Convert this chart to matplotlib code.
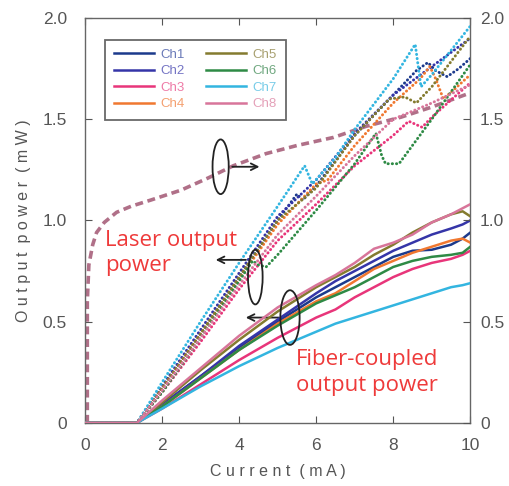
import matplotlib
matplotlib.use('Agg')
import matplotlib.pyplot as plt
from matplotlib.patches import Ellipse

# ── data ──
CHANNELS = ['Ch1', 'Ch2', 'Ch3', 'Ch4', 'Ch5', 'Ch6', 'Ch7', 'Ch8']

# fiber-coupled output power (solid)
fib_x = [0, 1.35, 2, 3, 4, 5, 6, 6.5, 7, 7.5, 8, 8.5, 9, 9.5, 9.8, 10]
fib_ch1 = [0, 0, 0.09, 0.23, 0.37, 0.50, 0.62, 0.67, 0.72, 0.77, 0.82, 0.85, 0.855, 0.88, 0.91, 0.94]
fib_ch2 = [0, 0, 0.09, 0.23, 0.38, 0.51, 0.64, 0.70, 0.75, 0.80, 0.85, 0.89, 0.93, 0.96, 0.98, 1.00]
fib_ch3 = [0, 0, 0.07, 0.19, 0.31, 0.42, 0.52, 0.56, 0.62, 0.67, 0.72, 0.76, 0.79, 0.81, 0.83, 0.85]
fib_ch4 = [0, 0, 0.08, 0.22, 0.36, 0.49, 0.60, 0.64, 0.70, 0.76, 0.80, 0.84, 0.87, 0.90, 0.91, 0.89]
fib_ch5 = [0, 0, 0.10, 0.26, 0.41, 0.55, 0.67, 0.72, 0.77, 0.83, 0.88, 0.94, 0.99, 1.03, 1.045, 1.02]
fib_ch6 = [0, 0, 0.08, 0.22, 0.36, 0.48, 0.59, 0.63, 0.67, 0.72, 0.77, 0.80, 0.82, 0.83, 0.84, 0.87]
fib_ch7 = [0, 0, 0.07, 0.18, 0.28, 0.37, 0.45, 0.49, 0.52, 0.55, 0.58, 0.61, 0.64, 0.67, 0.68, 0.69]
fib_ch8 = [0, 0, 0.11, 0.27, 0.43, 0.57, 0.68, 0.73, 0.79, 0.86, 0.89, 0.93, 0.99, 1.03, 1.06, 1.08]

# laser output power (dotted)
las_x1 = [0, 1.35, 2, 3, 4, 5, 5.5, 5.65, 6, 7, 8, 8.6, 8.9, 9.1, 9.4, 9.7, 10]
las_y1 = [0, 0, 0.17, 0.44, 0.72, 1.0, 1.13, 1.10, 1.17, 1.42, 1.62, 1.74, 1.78, 1.74, 1.71, 1.75, 1.80]
las_x2 = [0, 1.35, 2, 3, 4, 5, 6, 7, 8, 9, 10]
las_y2 = [0, 0, 0.18, 0.46, 0.74, 1.02, 1.20, 1.43, 1.62, 1.76, 1.90]
las_x3 = [0, 1.35, 2, 3, 4, 5, 6, 7, 8, 8.4, 8.75, 9, 10]
las_y3 = [0, 0, 0.15, 0.40, 0.66, 0.90, 1.08, 1.27, 1.42, 1.49, 1.46, 1.51, 1.68]
las_x4 = [0, 1.35, 2, 3, 4, 5, 6, 6.3, 7, 8, 8.7, 8.95, 9.1, 9.3, 9.6, 10]
las_y4 = [0, 0, 0.17, 0.44, 0.71, 0.98, 1.18, 1.20, 1.37, 1.58, 1.70, 1.76, 1.70, 1.60, 1.65, 1.72]
las_x5 = [0, 1.35, 2, 3, 4, 5, 6, 7, 7.9, 8.3, 8.6, 9, 10]
las_y5 = [0, 0, 0.17, 0.44, 0.72, 1.0, 1.16, 1.42, 1.60, 1.61, 1.58, 1.66, 1.91]
las_x6 = [0, 1.35, 2, 3, 4, 4.35, 4.5, 4.7, 5, 6, 7, 7.55, 7.7, 7.8, 8.15, 9, 10]
las_y6 = [0, 0, 0.15, 0.42, 0.70, 0.80, 0.78, 0.77, 0.83, 1.05, 1.28, 1.43, 1.32, 1.28, 1.28, 1.50, 1.77]
las_x7 = [0, 1.35, 2, 3, 4, 5, 5.7, 5.9, 6.5, 7, 8, 8.57, 8.72, 9, 10]
las_y7 = [0, 0, 0.20, 0.50, 0.79, 1.07, 1.27, 1.18, 1.31, 1.45, 1.70, 1.87, 1.66, 1.72, 1.96]
las_x8 = [0, 1.35, 2, 3, 4, 5, 6, 7, 8, 9, 10]
las_y8 = [0, 0, 0.16, 0.42, 0.68, 0.93, 1.12, 1.32, 1.50, 1.58, 1.67]

# laser output (single, dashed)
ld_x = [0.06, 0.06, 0.1, 0.2, 0.3, 0.5, 0.82, 1.2, 1.7, 2.5, 3.2, 3.85, 4.7, 5.5, 6.45, 7.3, 8.2, 9.0, 10]
ld_y = [0, 0.6, 0.78, 0.88, 0.94, 0.99, 1.04, 1.07, 1.10, 1.15, 1.21, 1.27, 1.33, 1.37, 1.41, 1.465, 1.51, 1.56, 1.63]

X_TICKS = [0, 2, 4, 6, 8, 10]
Y_TICKS = [0, 0.5, 1.0, 1.5, 2.0]
Y_TICKLABELS = ['0', '0.5', '1.0', '1.5', '2.0']

COLORS = ['#1c3a8c', '#3535a8', '#e8357a', '#f07830', '#847b2f', '#2e8a45', '#33b5e0', '#d8759a']
TEXT_COLORS = ['#6a7ab8', '#7474c4', '#ee7aa6', '#f4a070', '#a8a070', '#70a880', '#78cce8', '#e4a0b8']
DASH_COLOR = '#b07088'
RED = '#ee3a3a'
GRAY = '#555555'

fib = [fib_ch1, fib_ch2, fib_ch3, fib_ch4, fib_ch5, fib_ch6, fib_ch7, fib_ch8]
las = [(las_x1, las_y1), (las_x2, las_y2), (las_x3, las_y3), (las_x4, las_y4),
       (las_x5, las_y5), (las_x6, las_y6), (las_x7, las_y7), (las_x8, las_y8)]

plt.rcParams['font.family'] = ['Liberation Sans', 'DejaVu Sans']

fig = plt.figure(figsize=(5.09, 4.86), dpi=100, facecolor='white')
ax = fig.add_axes([0.167, 0.13, 0.757, 0.833])

ax.plot(ld_x, ld_y, color=DASH_COLOR, lw=2.6, ls=(0, (2.2, 1.3)), zorder=2)

for (lx, ly), c in zip(las, COLORS):
    ax.plot(lx, ly, color=c, lw=2.1, ls=(0, (0.1, 1.35)), dash_capstyle='round', zorder=3)

handles = []
for y, c, name in zip(fib, COLORS, CHANNELS):
    h, = ax.plot(fib_x, y, color=c, lw=1.8, label=name, zorder=4)
    handles.append(h)

ax.set_xlim(0, 10)
ax.set_ylim(0, 2.0)
ax.set_xticks(X_TICKS)
ax.set_xticklabels([str(v) for v in X_TICKS])
ax.set_yticks(Y_TICKS)
ax.set_yticklabels(Y_TICKLABELS)
ax.tick_params(direction='in', top=True, right=True, labelsize=12.5,
               colors=GRAY, length=5, width=0.8)
ax.tick_params(axis='x', pad=11)
ax.tick_params(axis='y', pad=13)
for s in ax.spines.values():
    s.set_color('#666666')
    s.set_linewidth(1.0)

# right-hand tick labels
ax_r = ax.twinx()
ax_r.set_ylim(0, 2.0)
ax_r.set_yticks(Y_TICKS)
ax_r.set_yticklabels(Y_TICKLABELS)
ax_r.tick_params(direction='in', labelsize=12.5, colors=GRAY, length=5, width=0.8, pad=7)
for s in ax_r.spines.values():
    s.set_visible(False)

ax.set_xlabel('C u r r e n t  ( m A )', fontsize=11.5, color=GRAY, labelpad=8)
ax.set_ylabel('O u t p u t  p o w e r  ( m W )', fontsize=11.5, color=GRAY, labelpad=8)

leg = ax.legend(handles=handles, ncol=2, loc='upper left', bbox_to_anchor=(0.035, 0.963),
                fontsize=9.5, fancybox=False, frameon=True, edgecolor='#444444',
                handlelength=3.0, handletextpad=0.5, columnspacing=1.6,
                labelspacing=0.32, borderpad=0.7)
leg.get_frame().set_linewidth(1.3)
for t, tc in zip(leg.get_texts(), TEXT_COLORS):
    t.set_color(tc)
leg.set_zorder(10)

# annotations
ax.text(0.52, 0.955, 'Laser output\npower', color=RED, fontsize=16,
        ha='left', va='top', linespacing=1.3, family=['Open Sans', 'DejaVu Sans'])
ax.text(5.48, 0.365, 'Fiber-coupled\noutput power', color=RED, fontsize=16,
        ha='left', va='top', linespacing=1.3, family=['Open Sans', 'DejaVu Sans'])

for cx, cy, w, h in [(3.52, 1.265, 0.42, 0.27), (4.42, 0.72, 0.38, 0.27), (5.32, 0.52, 0.5, 0.27)]:
    ax.add_patch(Ellipse((cx, cy), w, h, fill=False, ec='#222222', lw=1.3, zorder=5))

arrow = dict(arrowstyle='->', color='#222222', lw=1.3, mutation_scale=12)
ax.annotate('', xy=(4.6, 1.265), xytext=(3.75, 1.265), arrowprops=arrow)
ax.annotate('', xy=(3.32, 0.805), xytext=(4.25, 0.805), arrowprops=arrow)
ax.annotate('', xy=(4.1, 0.52), xytext=(5.1, 0.52), arrowprops=arrow)

fig.savefig('out.png', dpi=100, facecolor='white')
